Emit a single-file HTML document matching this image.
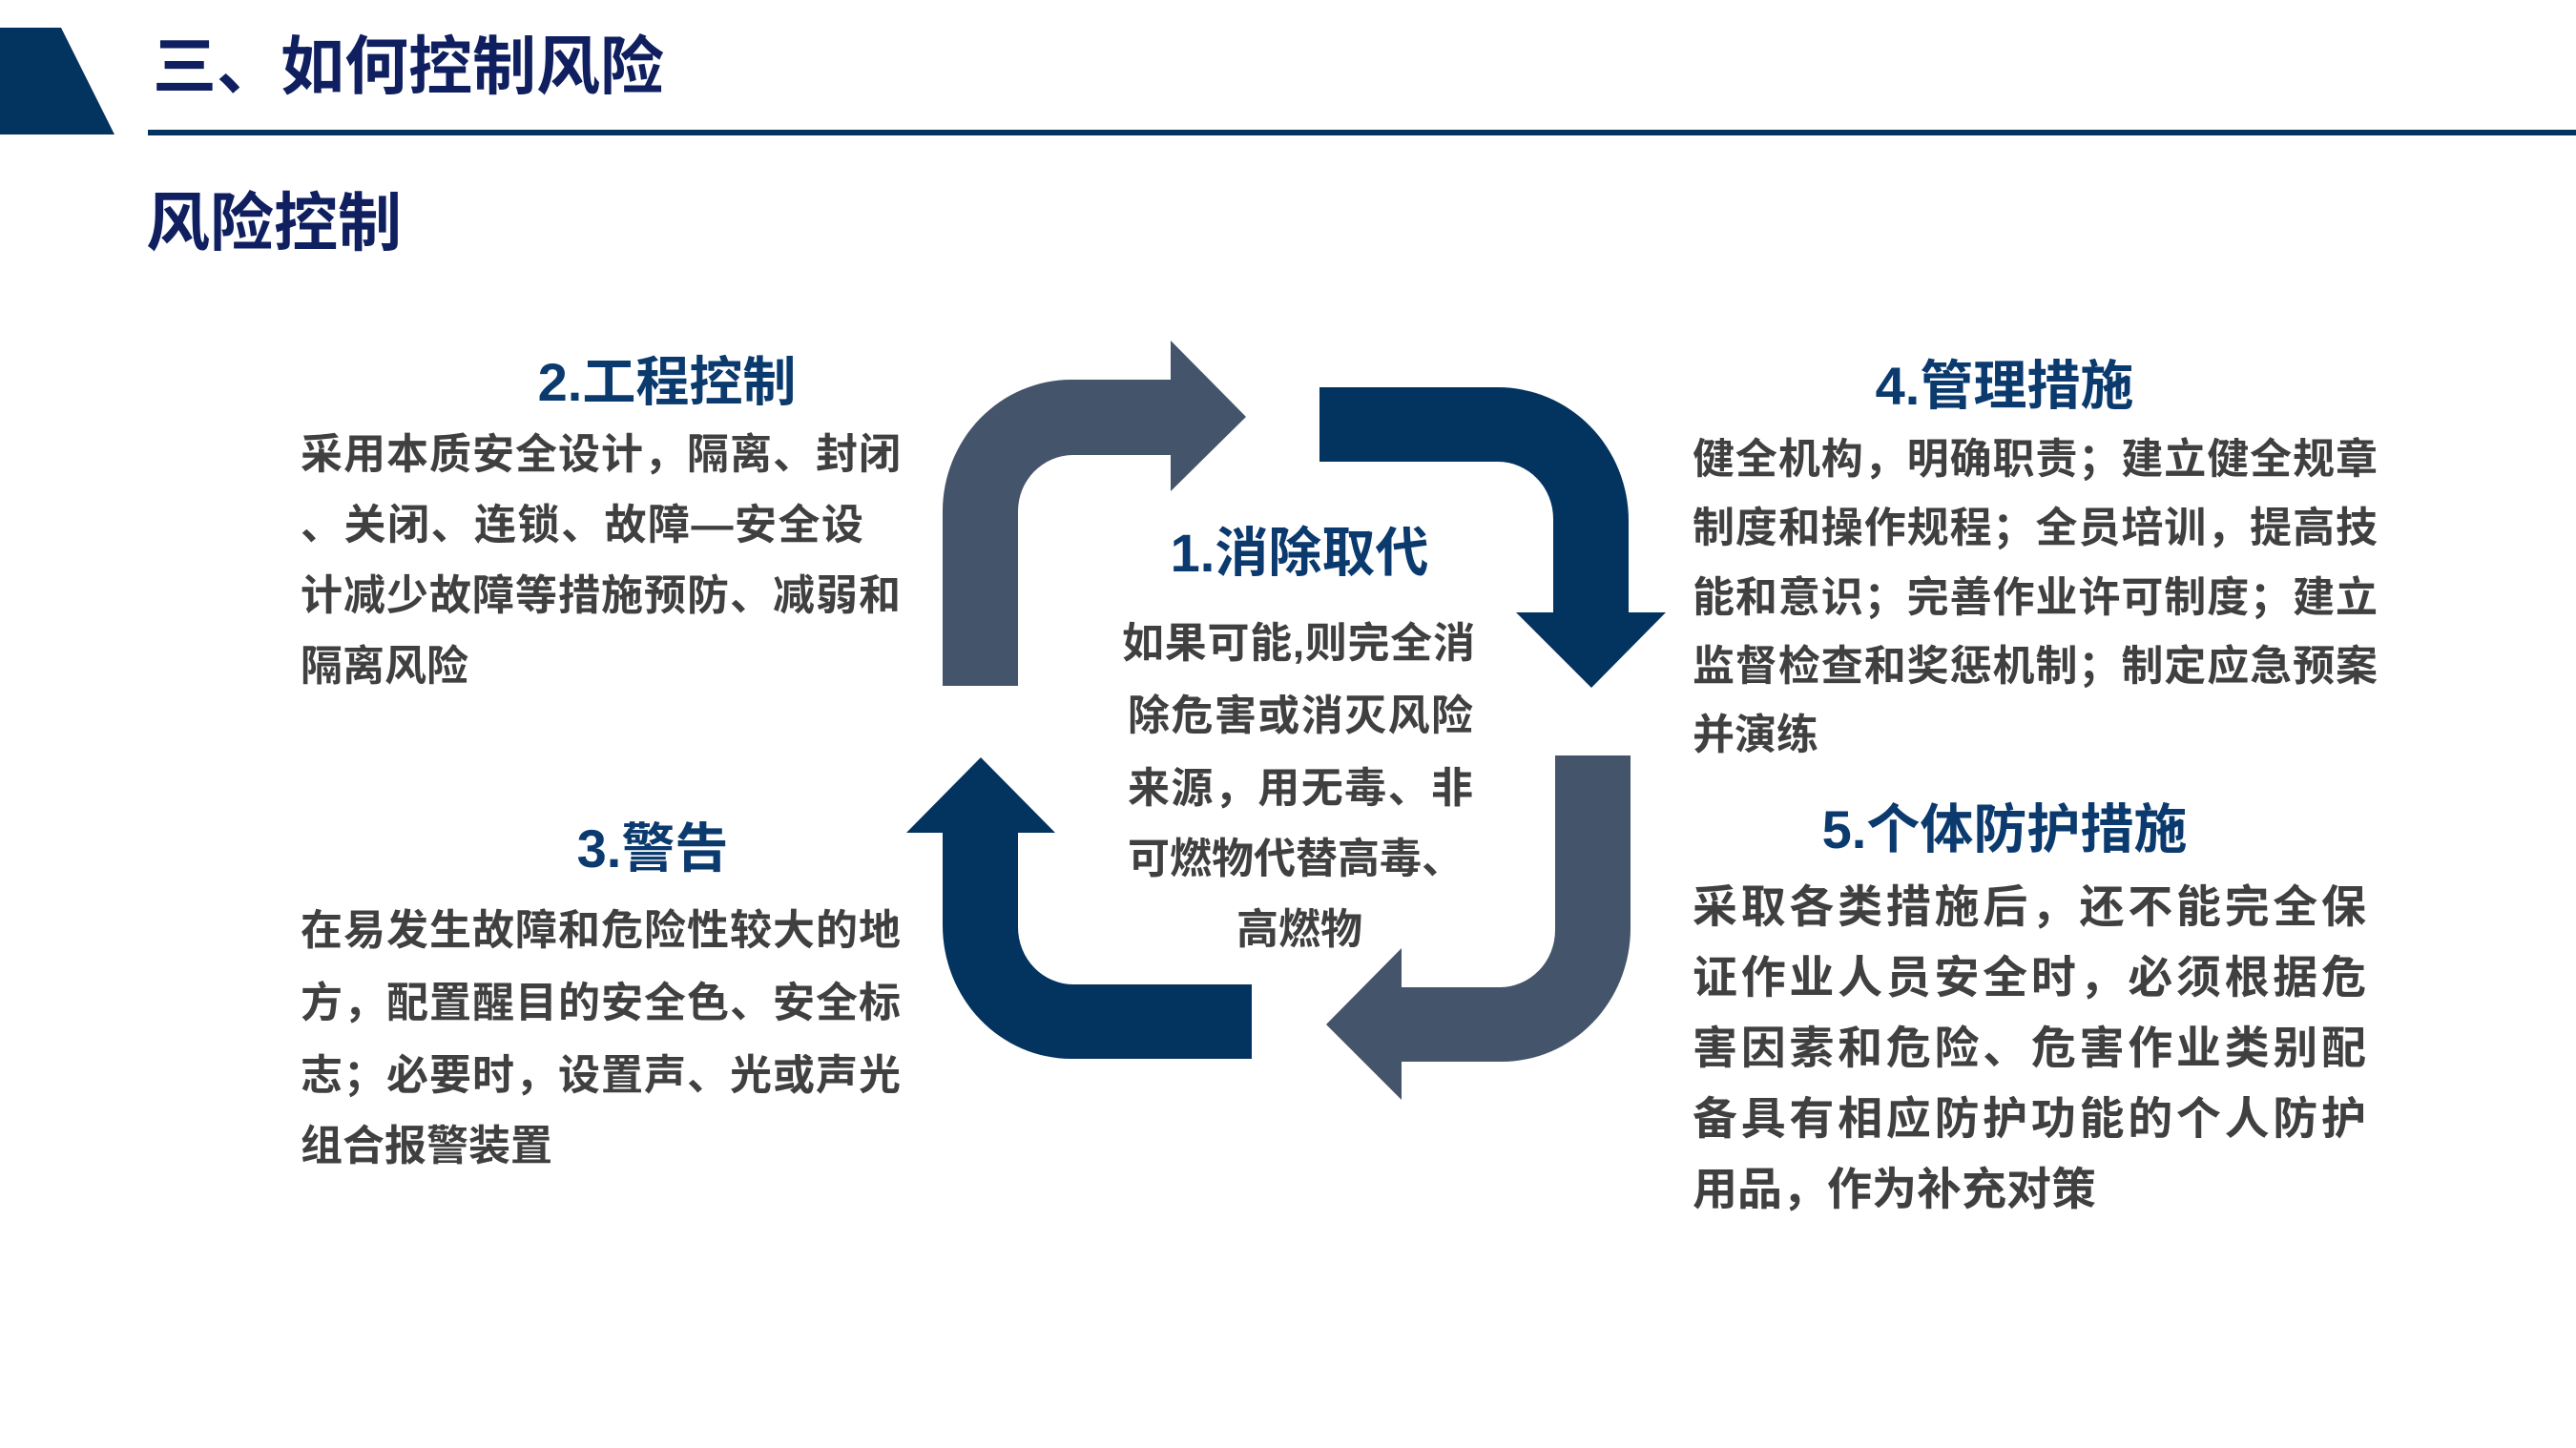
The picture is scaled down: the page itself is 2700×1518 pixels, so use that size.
<!DOCTYPE html>
<html><head><meta charset="utf-8"><style>
body{margin:0;width:2700px;height:1518px;background:#fff;position:relative;overflow:hidden;font-family:"Liberation Sans","Noto Sans CJK SC",sans-serif;font-weight:bold}
.t{position:absolute;white-space:nowrap;line-height:1}
.h{color:#0b3a6e;font-size:56px;text-align:center}
.b{color:#404040;font-size:44px;text-align:justify;text-align-last:justify}
.c{color:#404040;font-size:44px;text-align:justify;text-align-last:justify}
.r{color:#404040;font-size:47px;text-align:justify;text-align-last:justify}
</style></head><body>
<svg width="2700" height="1518" style="position:absolute;left:0;top:0">
<polygon points="0,29 64,29 120,141 0,141" fill="#03335f"/>
<rect x="155" y="136" width="2545" height="6" fill="#03335f"/>
<path d="M988,719 L988,536 A135,138 0 0 1 1123,398 L1227,398 L1227,357 L1306,437 L1227,515 L1227,477 L1125,477 A58,59 0 0 0 1067,536 L1067,719 Z" fill="#44546a"/>
<path d="M1383,406 L1570,406 A137,140 0 0 1 1707,546 L1707,642 L1746,642 L1668,721 L1589,642 L1628,642 L1628,544 A58,60 0 0 0 1570,484 L1383,484 Z" fill="#03335f"/>
<path d="M1709,792 L1709,973 A135,140 0 0 1 1574,1113 L1469,1113 L1469,1153 L1390,1074 L1469,994 L1469,1035 L1572,1035 A58,60 0 0 0 1630,975 L1630,792 Z" fill="#44546a"/>
<path d="M1312,1110 L1123,1110 A135,140 0 0 1 988,970 L988,873 L950,873 L1028,794 L1106,873 L1067,873 L1067,972 A58,60 0 0 0 1125,1032 L1312,1032 Z" fill="#03335f"/>
</svg>
<div class="t" style="left:160px;top:37px;font-size:67px;color:#0f1f5f">三、如何控制风险</div>
<div class="t" style="left:153px;top:201px;font-size:67px;color:#0f1f5f">风险控制</div>

<div class="t h" style="left:499px;width:400px;top:373px">2.工程控制</div>
<div class="t b" style="left:315px;width:629px;top:455px">采用本质安全设计，隔离、封闭</div>
<div class="t b" style="left:315px;width:590px;top:529px">、关闭、连锁、故障—安全设</div>
<div class="t b" style="left:315px;width:629px;top:603px">计减少故障等措施预防、减弱和</div>
<div class="t" style="left:315px;top:677px;font-size:44px;color:#404040">隔离风险</div>

<div class="t h" style="left:484px;width:400px;top:862px">3.警告</div>
<div class="t b" style="left:315px;width:629px;top:954px">在易发生故障和危险性较大的地</div>
<div class="t b" style="left:315px;width:629px;top:1030px">方，配置醒目的安全色、安全标</div>
<div class="t b" style="left:315px;width:629px;top:1106px">志；必要时，设置声、光或声光</div>
<div class="t" style="left:315px;top:1180px;font-size:44px;color:#404040">组合报警装置</div>

<div class="t h" style="left:1162px;width:400px;top:552px">1.消除取代</div>
<div class="t c" style="left:1176px;width:370px;top:653px">如果可能,则完全消</div>
<div class="t c" style="left:1182px;width:362px;top:729px">除危害或消灭风险</div>
<div class="t c" style="left:1182px;width:362px;top:805px">来源，用无毒、非</div>
<div class="t c" style="left:1182px;width:340px;top:879px">可燃物代替高毒、</div>
<div class="t" style="left:1162px;width:400px;top:953px;font-size:44px;color:#404040;text-align:center">高燃物</div>

<div class="t h" style="left:1901px;width:400px;top:377px">4.管理措施</div>
<div class="t b" style="left:1774px;width:718px;top:460px">健全机构，明确职责；建立健全规章</div>
<div class="t b" style="left:1774px;width:718px;top:532px">制度和操作规程；全员培训，提高技</div>
<div class="t b" style="left:1774px;width:718px;top:605px">能和意识；完善作业许可制度；建立</div>
<div class="t b" style="left:1774px;width:718px;top:677px">监督检查和奖惩机制；制定应急预案</div>
<div class="t" style="left:1774px;top:749px;font-size:44px;color:#404040">并演练</div>

<div class="t h" style="left:1851px;width:500px;top:842px">5.个体防护措施</div>
<div class="t r" style="left:1774px;width:706px;top:927px">采取各类措施后，还不能完全保</div>
<div class="t r" style="left:1774px;width:706px;top:1001px">证作业人员安全时，必须根据危</div>
<div class="t r" style="left:1774px;width:706px;top:1075px">害因素和危险、危害作业类别配</div>
<div class="t r" style="left:1774px;width:706px;top:1149px">备具有相应防护功能的个人防护</div>
<div class="t" style="left:1774px;top:1223px;font-size:47px;color:#404040">用品，作为补充对策</div>
</body></html>
